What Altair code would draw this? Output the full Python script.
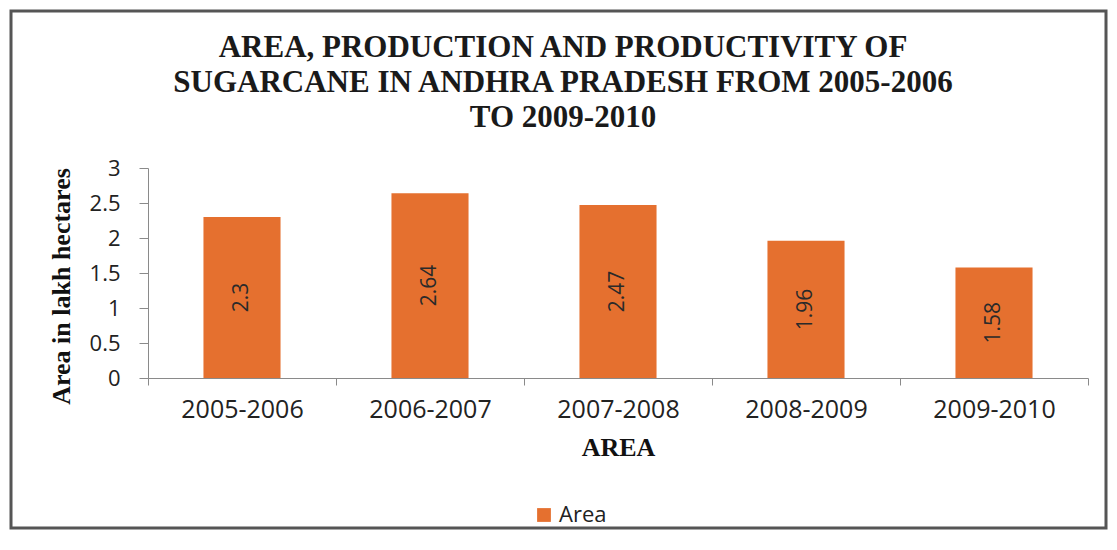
import altair as alt
import pandas as pd

years = ["2005-2006", "2006-2007", "2007-2008", "2008-2009", "2009-2010"]
area = [2.3, 2.64, 2.47, 1.96, 1.58]
series = ["Area"] * 5

df = pd.DataFrame({"year": years, "value": area, "series": series})

BAR = "#E5702F"

x_axis = alt.Axis(
    title="AREA",
    titleFont="Liberation Serif",
    titleFontSize=26,
    titleFontWeight="bold",
    titleColor="#111111",
    titlePadding=12,
    labelAngle=0,
    labelFont="Open Sans",
    labelFontSize=25,
    labelColor="#222222",
    labelPadding=12,
    tickBand="extent",
    tickSize=7,
    tickColor="#8a8a8a",
    domainColor="#8a8a8a",
    grid=False,
)

y_axis = alt.Axis(
    title="Area in lakh hectares",
    titleFont="Liberation Serif",
    titleFontSize=26,
    titleFontWeight="bold",
    titleColor="#111111",
    titlePadding=15,
    titleY=118,
    values=[0, 0.5, 1, 1.5, 2, 2.5, 3],
    format="~g",
    labelFont="Open Sans",
    labelFontSize=22,
    labelColor="#222222",
    labelPadding=19,
    labelOverlap=False,
    tickSize=9,
    tickColor="#8a8a8a",
    domainColor="#8a8a8a",
    grid=False,
)

x_scale = alt.Scale(paddingInner=0, paddingOuter=0)
y_scale = alt.Scale(domain=[0, 3], nice=False)

bars = alt.Chart(df).mark_bar(color=BAR, width=alt.RelativeBandSize(0.41)).encode(
    x=alt.X("year:N", sort=years, scale=x_scale, axis=x_axis),
    y=alt.Y("value:Q", scale=y_scale, axis=y_axis),
    color=alt.Color(
        "series:N",
        scale=alt.Scale(domain=["Area"], range=[BAR]),
        legend=alt.Legend(
            title=None,
            orient="none",
            legendX=385,
            legendY=336,
            symbolType="square",
            symbolSize=190,
            symbolStrokeWidth=0,
            labelFont="Open Sans",
            labelFontSize=22,
            labelColor="#222222",
        ),
    ),
)

labels = alt.Chart(df).transform_calculate(
    mid="datum.value / 2"
).mark_text(
    angle=270, font="Open Sans", fontSize=21, color="#2a2a2a"
).encode(
    x=alt.X("year:N", sort=years, scale=x_scale, axis=x_axis),
    y=alt.Y("mid:Q", scale=y_scale, axis=y_axis),
    text=alt.Text("value:Q", format="~g"),
)

border = alt.Chart(pd.DataFrame({"b": [0]})).mark_rect(
    fill=None, stroke="#555555", strokeWidth=3
).encode(
    x=alt.value(-137), x2=alt.value(958),
    y=alt.value(-157), y2=alt.value(360),
)

chart = alt.layer(bars, labels, border).properties(
    width=940,
    height=210,
    background="white",
    padding={"left": 140, "top": 160, "right": 21, "bottom": 160},
    autosize=alt.AutoSizeParams(type="none"),
    title=alt.TitleParams(
        text=[
            "AREA, PRODUCTION AND PRODUCTIVITY  OF",
            "SUGARCANE IN ANDHRA PRADESH FROM 2005-2006",
            "TO 2009-2010",
        ],
        font="Liberation Serif",
        fontSize=31,
        fontWeight="bold",
        color="#1a1a1a",
        anchor="middle",
        dx=-55,
        dy=124,
        lineHeight=35,
        offset=0,
    ),
).configure_view(strokeWidth=0, stroke="transparent")

chart.save("out.html", embed_options={"renderer": "svg", "actions": False})
